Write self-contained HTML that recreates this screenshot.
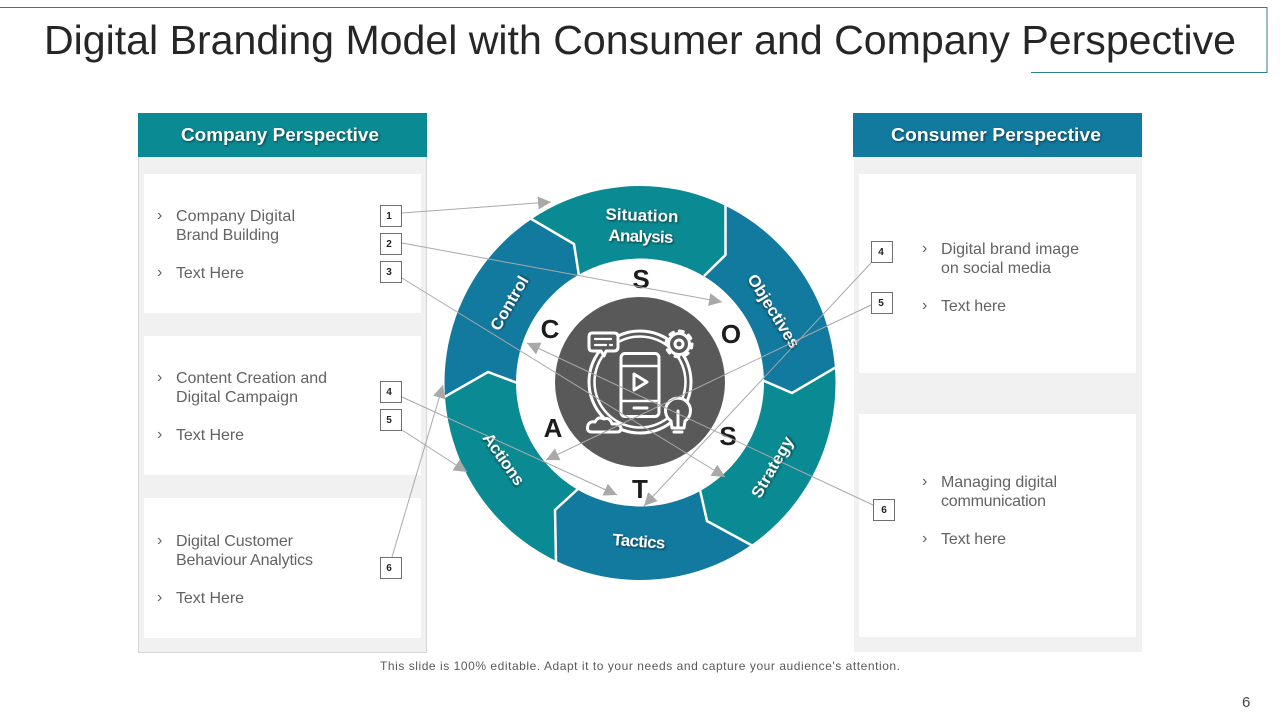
<!DOCTYPE html>
<html><head><meta charset="utf-8"><style>
html,body{margin:0;padding:0;background:#fff;width:1280px;height:720px;overflow:hidden}
svg{display:block;font-family:"Liberation Sans",sans-serif}
.b{font-size:16px;fill:#636363}
.n{font-size:10px;font-weight:bold;fill:#222;text-anchor:middle}
.h{font-size:18.5px;font-weight:bold;fill:#fff;text-anchor:middle;filter:drop-shadow(1px 1px 1px rgba(0,0,0,.5))}
.w{font-size:17px;font-weight:bold;fill:#fff;text-anchor:middle;filter:drop-shadow(1px 1.5px 1px rgba(0,0,0,.6))}
.l{font-size:26px;font-weight:bold;fill:#1d1d1d;text-anchor:middle}
.a{stroke:#a9a9a9;stroke-width:1;fill:none;marker-end:url(#m)}
.box{fill:#fff;stroke:#6f6f6f;stroke-width:1}
.i{fill:#595959;stroke:#fff;stroke-width:3;stroke-linejoin:round;stroke-linecap:round}
.sep{fill:none;stroke:#fff;stroke-width:2.5;stroke-linejoin:miter}
</style></head><body>
<svg width="1280" height="720" viewBox="0 0 1280 720" xmlns="http://www.w3.org/2000/svg">
<defs>
<marker id="m" markerUnits="userSpaceOnUse" markerWidth="16" markerHeight="16" refX="13" refY="6.500" orient="auto"><path d="M0 0L13 6.500L0 13Z" fill="#a9a9a9"/></marker>
<clipPath id="ring"><ellipse cx="640" cy="383" rx="195.500" ry="197"/></clipPath>
</defs>

<path d="M0 7.5H1267V72.5H1031" fill="none" stroke="#2f7f8b" stroke-width="1"/>
<text x="44" y="54" font-size="41" fill="#262626" textLength="1192" lengthAdjust="spacingAndGlyphs">Digital Branding Model with Consumer and Company Perspective</text>

<!-- left panel -->
<rect x="138.5" y="150" width="288" height="502.5" fill="#f1f1f1" stroke="#d6d6d6"/>
<rect x="138" y="113" width="289" height="44" fill="#0a8a92"/>
<text class="h" x="280" y="141" textLength="198" lengthAdjust="spacingAndGlyphs">Company Perspective</text>
<rect x="144" y="174" width="277" height="139" fill="#fff"/>
<rect x="144" y="336" width="277" height="139" fill="#fff"/>
<rect x="144" y="498" width="277" height="140" fill="#fff"/>

<!-- right panel -->
<rect x="854" y="150" width="288" height="502" fill="#f1f1f1"/>
<rect x="853" y="113" width="289" height="44" fill="#12799f"/>
<text class="h" x="996" y="141" textLength="210" lengthAdjust="spacingAndGlyphs">Consumer Perspective</text>
<rect x="859" y="174" width="277" height="199" fill="#fff"/>
<rect x="859" y="414" width="277" height="223" fill="#fff"/>

<!-- left text -->
<g class="b">
<text x="157" y="220">›</text><text x="176" y="221" textLength="119">Company Digital</text>
<text x="176" y="240" textLength="103">Brand Building</text>
<text x="157" y="277">›</text><text x="176" y="278" textLength="68">Text Here</text>
<text x="157" y="382">›</text><text x="176" y="383" textLength="151">Content Creation and</text>
<text x="176" y="402" textLength="122">Digital Campaign</text>
<text x="157" y="439">›</text><text x="176" y="440" textLength="68">Text Here</text>
<text x="157" y="545">›</text><text x="176" y="546" textLength="117">Digital Customer</text>
<text x="176" y="565" textLength="137">Behaviour Analytics</text>
<text x="157" y="602">›</text><text x="176" y="603" textLength="68">Text Here</text>
<!-- right text -->
<text x="922" y="253">›</text><text x="941" y="254" textLength="138">Digital brand image</text>
<text x="941" y="273" textLength="110">on social media</text>
<text x="922" y="310">›</text><text x="941" y="311" textLength="65">Text here</text>
<text x="922" y="486">›</text><text x="941" y="487" textLength="116">Managing digital</text>
<text x="941" y="506" textLength="105">communication</text>
<text x="922" y="543">›</text><text x="941" y="544" textLength="65">Text here</text>
</g>

<!-- ring -->
<g clip-path="url(#ring)">
<polygon fill="#0a8a92" points="530,218 540,170 726,170 726,255 705,275 640,383 579,274 574,244"/>
<polygon fill="#12799f" points="726,170 726,255 705,275 640,383 764,380 792,393 840,366 860,250"/>
<polygon fill="#0a8a92" points="840,366 792,393 764,380 640,383 700,492 707,521 752,545 860,560"/>
<polygon fill="#12799f" points="752,545 707,521 700,492 640,383 577,490 555,510 556,590 752,590"/>
<polygon fill="#0a8a92" points="556,590 555,510 577,490 640,383 517,381 488,372 443,398 420,590"/>
<polygon fill="#12799f" points="443,398 488,372 517,381 640,383 579,274 574,244 530,218 420,180"/>
<path class="sep" d="M528 217L574 244L579 276"/>
<path class="sep" d="M725.500 200V255L704 276"/>
<path class="sep" d="M838 366L792 393L762 380"/>
<path class="sep" d="M753 546L707 521L700 490"/>
<path class="sep" d="M556 563L555 510L579 488"/>
<path class="sep" d="M441 399L488 372L520 384"/>
</g>
<circle cx="640" cy="382.500" r="124" fill="#fff"/>
<circle cx="640" cy="382" r="85" fill="#595959"/>

<!-- icon -->
<g class="i">
<circle cx="640" cy="382" r="51" fill="none"/>
<circle cx="640" cy="382" r="45.500" fill="none" stroke-width="2.500"/>
<rect x="621" y="353.500" width="38" height="63" rx="4"/>
<path d="M621 366H659M621 401H659" fill="none" stroke-width="2.500"/>
<path d="M634 374L647 382L634 390Z" fill="none"/>
<path d="M634 408H647" fill="none"/>
<path d="M592 333H614Q618 333 618 337V347Q618 351 614 351H606L604 356L601 351H592Q589 351 589 347V337Q589 333 592 333Z"/>
<path d="M595 339H611M595 345H606M610 345H612" fill="none" stroke-width="2.200"/>
<circle cx="679" cy="344" r="10.500"/>
<circle cx="679" cy="344" r="4" fill="none"/>
<circle cx="679" cy="344" r="13" fill="none" stroke-dasharray="4 6.200" stroke-width="3"/>
<path d="M671 421A12.500 12.500 0 1 1 685 421L684 428H672Z"/>
<path d="M678 411V426M674 432H682" fill="none"/>
<path d="M592 432Q586 432 588 425Q590 421 595 422Q598 416 604 419Q610 417 612 424Q620 423 621 428Q621 432 617 432Z"/>
</g>

<!-- segment labels -->
<text class="w" x="642" y="221" transform="rotate(2 642 215)" textLength="73">Situation</text>
<text class="w" x="641" y="242" transform="rotate(2 641 236)" textLength="65">Analysis</text>
<text class="w" x="509" y="309" transform="rotate(-60 509 303)" textLength="60">Control</text>
<text class="w" x="774" y="317" transform="rotate(58 774 311)" textLength="84">Objectives</text>
<text class="w" x="504" y="465" transform="rotate(55 504 459)" textLength="60">Actions</text>
<text class="w" x="772" y="473" transform="rotate(-60 772 467)" textLength="68">Strategy</text>
<text class="w" x="639" y="547" transform="rotate(4 639 541)" textLength="53">Tactics</text>

<!-- letters -->
<text class="l" x="641" y="288">S</text>
<text class="l" x="731" y="343">O</text>
<text class="l" x="550" y="338">C</text>
<text class="l" x="553" y="437">A</text>
<text class="l" x="728" y="445">S</text>
<text class="l" x="640" y="498">T</text>

<!-- connectors -->
<path class="a" d="M402 213L551 202"/>
<path class="a" d="M402 243L722 302"/>
<path class="a" d="M402 278L725 477"/>
<path class="a" d="M402 397L617 495"/>
<path class="a" d="M402 430L467 472"/>
<path class="a" d="M392 557L443 385"/>
<path class="a" d="M871 263L644 506"/>
<path class="a" d="M871 305L546 460"/>
<path class="a" d="M873 505L527 343"/>

<!-- number boxes -->
<g>
<rect class="box" x="380.500" y="205.500" width="21" height="21"/><text class="n" x="389" y="219">1</text>
<rect class="box" x="380.500" y="233.500" width="21" height="21"/><text class="n" x="389" y="247">2</text>
<rect class="box" x="380.500" y="261.500" width="21" height="21"/><text class="n" x="389" y="275">3</text>
<rect class="box" x="380.500" y="381.500" width="21" height="21"/><text class="n" x="389" y="395">4</text>
<rect class="box" x="380.500" y="409.500" width="21" height="21"/><text class="n" x="389" y="423">5</text>
<rect class="box" x="380.500" y="557.500" width="21" height="21"/><text class="n" x="389" y="571">6</text>
<rect class="box" x="871.500" y="241.500" width="21" height="21"/><text class="n" x="881" y="255">4</text>
<rect class="box" x="871.500" y="292.500" width="21" height="21"/><text class="n" x="881" y="306">5</text>
<rect class="box" x="873.500" y="499.500" width="21" height="21"/><text class="n" x="884" y="513">6</text>
</g>

<text x="380" y="670" font-size="12" fill="#5a5a5a" textLength="520">This slide is 100% editable. Adapt it to your needs and capture your audience's attention.</text>
<text x="1242" y="707" font-size="15" fill="#444">6</text>
</svg>
</body></html>
